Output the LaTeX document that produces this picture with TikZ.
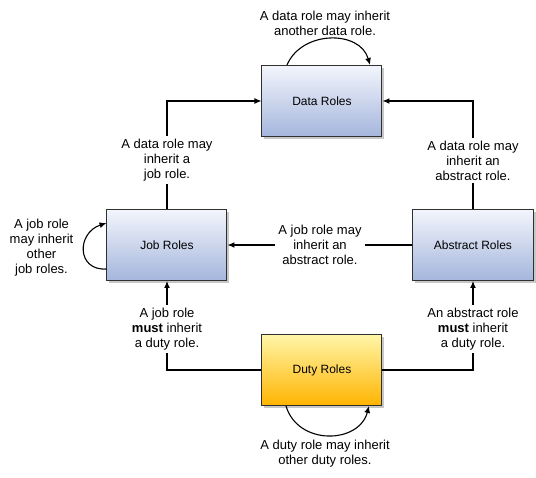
\documentclass[tikz,border=0pt]{standalone}
\usepackage{fontspec}
\setmainfont{Liberation Sans}
\usetikzlibrary{arrows.meta,positioning,shadows}
\usepackage{xcolor}
\definecolor{roletop}{HTML}{F2F5FB}
\definecolor{rolebot}{HTML}{A5B6DD}
\definecolor{dutytop}{HTML}{FFF6A8}
\definecolor{dutybot}{HTML}{FFB400}
\definecolor{rim}{HTML}{303030}

\begin{document}
\begin{tikzpicture}[
  every node/.style={font=\fontsize{13}{15}\selectfont},
  box/.style={draw=rim, line width=1pt, minimum width=120pt, minimum height=71pt,
              inner sep=0pt, font=\fontsize{12}{14}\selectfont,
              drop shadow={shadow xshift=2.5pt, shadow yshift=-2.5pt, fill=black!22, opacity=1}},
  rolebox/.style={box, top color=roletop, bottom color=rolebot},
  dutybox/.style={box, top color=dutytop, bottom color=dutybot},
  note/.style={align=center, inner sep=3pt},
  lbl/.style={note, fill=white},
  arr/.style={-{Latex[length=7pt,width=6pt]}, line width=1.1pt},
]
\useasboundingbox (-322pt,101pt) rectangle (214pt,-377pt);

%% Role boxes
\node[rolebox] (data) at (0,0) {Data Roles};
\node[rolebox, below left=72pt and 34pt of data] (job) {Job Roles};
\node[rolebox, below right=72pt and 30pt of data] (abstract) {Abstract Roles};
\node[dutybox, below=197pt of data] (duty) {Duty Roles};

%% Side notes
\node[note, above=26pt of data, xshift=3pt] (datanote)
  {A data role may inherit\\another data role.};
\node[note, below=31pt of duty, xshift=3pt] (dutynote)
  {A duty role may inherit\\other duty roles.};
\node[note, left=30pt of job, yshift=-3pt] (jobnote)
  {A job role\\may inherit\\other\\job roles.};

%% Arrows
\draw[arr] (job) |- node[lbl, pos=0.225] {A data role may\\inherit a\\job role.} (data);
\draw[arr] (abstract) |- node[lbl, pos=0.225] {A data role may\\inherit an\\abstract role.} (data);
\draw[arr] (abstract) -- node[lbl] {A job role may\\inherit an\\abstract role.} (job);
\draw[arr] (duty) -| node[lbl, pos=0.728] {A job role\\\textbf{must} inherit\\a duty role.} (job);
\draw[arr] (duty) -| node[lbl, pos=0.728] {An abstract role\\\textbf{must} inherit\\a duty role.} (abstract);

%% Self loops
\draw[arr] ([xshift=-35pt]data.north) .. controls +(15pt,35pt) and +(-10pt,35pt) .. ([xshift=48pt]data.north);
\draw[arr] ([yshift=-24pt]job.west) .. controls +(-30pt,-2pt) and +(-30pt,-10pt) .. ([yshift=22pt]job.west);
\draw[arr] ([xshift=-36pt]duty.south) .. controls +(12pt,-40pt) and +(-10pt,-38pt) .. ([xshift=47pt]duty.south);

\end{tikzpicture}
\end{document}
